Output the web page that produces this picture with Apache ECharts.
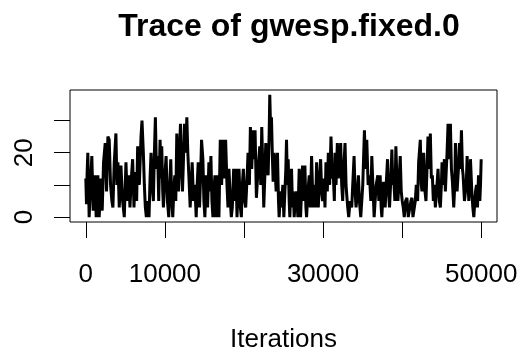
<!DOCTYPE html>
<html>
<head>
<meta charset="utf-8">
<script src="https://cdn.jsdelivr.net/npm/echarts@6/dist/echarts.min.js"></script>
<style>
  html, body { margin: 0; padding: 0; background: #fff; }
  #chart { width: 521px; height: 354px; }
</style>
</head>
<body>
<div id="chart"></div>
<script>
const iterations = [
  0, 85, 169, 254, 423, 592, 761, 931, 1142, 1311, 1523, 1692, 1904, 2073, 2242, 2453, 2623, 2792, 2961, 3130,
  3299, 3426, 3596, 3807, 3934, 4061, 4230, 4442, 4653, 4865, 5076, 5245, 5414, 5584, 5753, 5922, 6091, 6260, 6430, 6557,
  6768, 6980, 7106, 7276, 7403, 7529, 7656, 7826, 7995, 8122, 8249, 8375, 8545, 8672, 8798, 8925, 9095, 9221, 9391, 9518,
  9602, 9729, 9814, 9983, 10152, 10321, 10490, 10617, 10744, 10871, 10998, 11125, 11252, 11379, 11506, 11633, 11717, 11844, 11971, 12098,
  12225, 12352, 12479, 12648, 12775, 12902, 13028, 13198, 13325, 13451, 13621, 13790, 13959, 14086, 14213, 14382, 14509, 14636, 14805, 14932,
  15059, 15228, 15397, 15566, 15693, 15820, 15947, 16074, 16201, 16328, 16455, 16582, 16709, 16835, 17005, 17174, 17343, 17512, 17681, 17851,
  17978, 18104, 18274, 18401, 18527, 18697, 18824, 18993, 19120, 19247, 19373, 19543, 19670, 19796, 19923, 20093, 20219, 20389, 20516, 20685,
  20812, 20981, 21150, 21277, 21404, 21573, 21785, 21996,
  22123, 22250, 22419, 22504, 22631, 22757, 22927, 23054, 23180, 23265, 23392, 23477, 23603, 23688, 23815, 23900, 24069, 24238, 24365, 24449,
  24619, 24746, 24915, 25042, 25169, 25295, 25380, 25507, 25592, 25718, 25803, 25930, 26015, 26141, 26226, 26353, 26480, 26649, 26818, 26987,
  27157, 27284, 27410, 27580, 27707, 27833, 27918, 28087, 28256, 28383, 28553, 28679, 28764, 28933, 29060, 29187, 29314, 29399, 29568, 29695,
  29822, 29948, 30118, 30245, 30371, 30541, 30668, 30837, 31006, 31175, 31302, 31429, 31514, 31640, 31810, 31937, 32063, 32233, 32360, 32486,
  32613, 32783, 32909, 32994, 33121, 33248, 33417, 33629, 33755, 33925, 34052, 34178, 34348, 34475, 34601, 34771, 34898, 35024, 35236, 35363,
  35532, 35701, 35870, 36040, 36167, 36336, 36463, 36590, 36716, 36928, 37055, 37224, 37351, 37436, 37647, 37859, 37985, 38155, 38282, 38408,
  38578, 38705, 38831, 38916, 39085, 39212, 39339, 39466, 39635, 39762, 39889, 40016, 40143, 40270, 40439, 40608, 40777, 40946, 41116, 41243,
  41369, 41539, 41666, 41792, 41962, 42089, 42300, 42427, 42512, 42638, 42723, 42892, 43019, 43146, 43273, 43442, 43569, 43696, 43823, 43950,
  44077, 44204, 44330, 44415, 44542, 44711, 44838, 44965, 45050, 45176, 45346, 45473, 45557, 45684, 45811, 45938, 46107, 46234, 46361, 46530,
  46657, 46742, 46868, 46953, 47122, 47249, 47376, 47503, 47630, 47714, 47884, 48011, 48137, 48222, 48349, 48434, 48560, 48645, 48814, 48941,
  49068, 49153, 49280, 49406, 49533, 49660, 49829, 49914, 50000
];
const gwespValues = [
  12, 4, 14, 20, 0, 10, 19, 2, 13, 0, 13, 0, 12, 2, 17, 23, 8, 25, 24, 10,
  5, 3, 17, 26, 10, 17, 3, 16, 5, 0, 17, 5, 13, 3, 12, 18, 3, 14, 5, 22,
  10, 25, 30, 20, 10, 3, 0, 5, 0, 12, 20, 10, 5, 20, 31, 15, 19, 5, 24, 12,
  22, 8, 3, 12, 19, 5, 0, 10, 18, 5, 0, 8, 13, 5, 26, 15, 8, 20, 29, 15,
  8, 18, 29, 20, 31, 20, 13, 3, 10, 17, 5, 10, 0, 10, 17, 3, 12, 24, 18, 5,
  0, 13, 3, 17, 8, 19, 5, 0, 8, 13, 0, 13, 3, 0, 24, 10, 24, 12, 24, 10,
  3, 15, 5, 0, 3, 15, 5, 15, 0, 8, 15, 3, 0, 10, 15, 5, 3, 12, 20, 10,
  28, 15, 27, 18, 27, 6, 15, 22,
  10, 28, 12, 3, 12, 23, 15, 13, 25, 38, 25, 31, 18, 11, 20, 17, 8, 20, 5, 0,
  8, 3, 10, 0, 0, 15, 24, 10, 18, 5, 0, 10, 15, 3, 8, 0, 5, 8, 0, 15,
  0, 8, 16, 5, 16, 3, 0, 8, 13, 3, 19, 8, 3, 10, 3, 17, 8, 3, 12, 18,
  8, 5, 12, 3, 17, 8, 20, 10, 25, 12, 13, 5, 20, 10, 23, 12, 17, 23, 10, 5,
  15, 23, 10, 7, 3, 0, 5, 3, 10, 19, 8, 3, 8, 13, 5, 0, 5, 10, 27, 15,
  24, 10, 13, 5, 19, 8, 0, 5, 10, 13, 5, 13, 3, 0, 11, 3, 10, 18, 8, 3,
  12, 21, 10, 13, 5, 22, 12, 5, 12, 19, 8, 5, 3, 0, 5, 6, 0, 0, 5, 6,
  0, 0, 5, 10, 5, 17, 24, 10, 8, 15, 20, 8, 5, 15, 25, 15, 26, 12, 13, 5,
  10, 3, 3, 10, 15, 5, 3, 10, 17, 10, 18, 8, 13, 20, 29, 18, 29, 15, 11, 3,
  10, 23, 12, 8, 15, 23, 15, 27, 15, 13, 5, 8, 12, 19, 10, 5, 10, 18, 8, 3,
  0, 0, 8, 10, 3, 13, 5, 10, 18
];
const xTicks = [0, 10000, 20000, 30000, 40000, 50000];
const xLabels = [0, 10000, 30000, 50000];
const yTicks = [0, 10, 20, 30];
const yLabels = [0, 20];

const traceData = iterations.map((it, i) => [it, gwespValues[i]]);

const chart = echarts.init(document.getElementById('chart'), null, { renderer: 'canvas' });
const font = '"Liberation Sans", Arial, Helvetica, sans-serif';

chart.setOption({
  animation: false,
  backgroundColor: '#fff',
  title: {
    text: 'Trace of gwesp.fixed.0',
    left: 284,
    textAlign: 'center',
    top: 6,
    textStyle: { fontFamily: font, fontSize: 32, fontWeight: 'bold', color: '#000' }
  },
  grid: {
    left: 70,
    right: 24,
    top: 90,
    bottom: 124,
    show: true,
    borderColor: '#000',
    borderWidth: 1,
    backgroundColor: 'transparent'
  },
  xAxis: {
    type: 'value',
    min: -2000,
    max: 52000,
    name: 'Iterations',
    nameLocation: 'middle',
    nameGap: 105,
    nameTextStyle: { fontFamily: font, fontSize: 26, color: '#000', verticalAlign: 'top' },
    axisLine: { show: false, onZero: false },
    splitLine: { show: false },
    axisTick: { show: true, inside: false, length: 16, customValues: xTicks, lineStyle: { color: '#000', width: 1 } },
    axisLabel: { customValues: xLabels, margin: 40, fontFamily: font, fontSize: 26, color: '#000', formatter: v => String(v) }
  },
  yAxis: {
    type: 'value',
    min: -1.52,
    max: 39.5,
    axisLine: { show: false, onZero: false },
    splitLine: { show: false },
    axisTick: { show: true, inside: false, length: 16, customValues: yTicks, lineStyle: { color: '#000', width: 1 } },
    axisLabel: { customValues: yLabels, rotate: 90, margin: 32, fontFamily: font, fontSize: 26, color: '#000', formatter: v => String(v) }
  },
  series: [{
    type: 'line',
    data: traceData,
    showSymbol: false,
    sampling: null,
    lineStyle: { color: '#000', width: 3 },
    emphasis: { disabled: true }
  }]
});
</script>
</body>
</html>
